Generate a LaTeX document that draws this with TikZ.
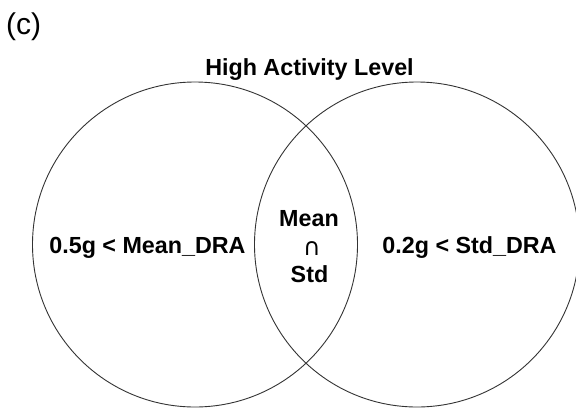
\documentclass[tikz,border=0pt]{standalone}
\usepackage{fontspec}
\setmainfont{Liberation Sans}
\newfontfamily\symfont{DejaVu Sans}
\begin{document}
\begin{tikzpicture}[x=1pt,y=-1pt,
  setcircle/.style={circle,draw=black!80,line width=0.9pt,minimum size=325pt,inner sep=0pt},
  lbl/.style={font=\fontsize{23.3}{27}\selectfont\bfseries,inner sep=0pt,anchor=base},
  panel/.style={font=\fontsize{30}{34}\selectfont,inner sep=0pt,anchor=base west}]
\useasboundingbox (0,0) rectangle (576,410);
\node[setcircle] (L) at (195,244.5) {};
\node[setcircle] (R) at (417,244.5) {};
\node[panel] (p) at (6,34) {(c)};
\node[lbl] (title) at (309.5,75) {High Activity Level};
\node[lbl] (lt) at (147.5,253) {0.5g < Mean\_DRA};
\node[lbl] (rt) at (469.5,253) {0.2g < Std\_DRA};
\node[lbl] (m1) at (309,226) {Mean};
\node[font=\fontsize{24}{26}\selectfont\symfont,inner sep=0pt] (cap) at (312,249) {∩};
\node[lbl] (m2) at (309.5,282) {Std};
\end{tikzpicture}
\end{document}
